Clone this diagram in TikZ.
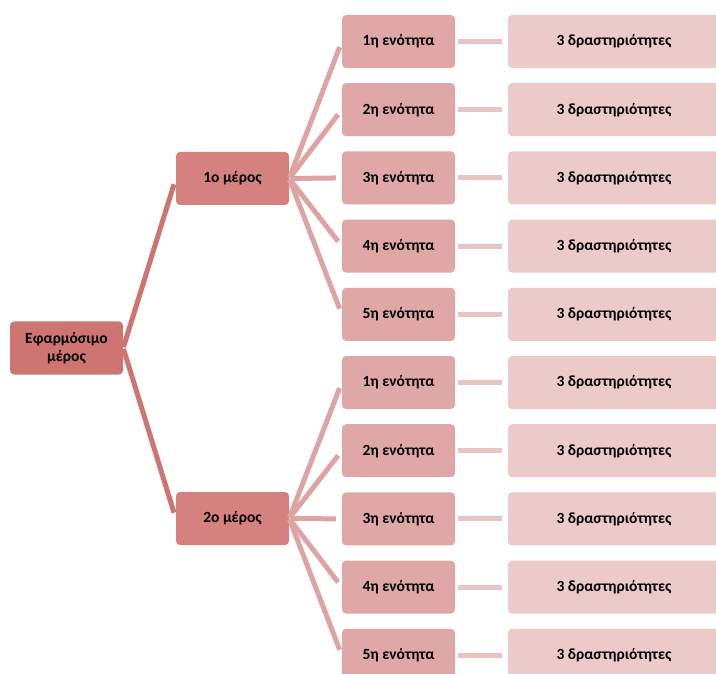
\documentclass[tikz,border=0pt]{standalone}
\usepackage{fontspec}
\setmainfont{Carlito}
\usepackage{xcolor}
\usetikzlibrary{positioning}

\definecolor{rootfill}{RGB}{206,117,113}
\definecolor{partfill}{RGB}{213,129,128}
\definecolor{unitfill}{RGB}{224,167,167}
\definecolor{actfill}{RGB}{237,202,202}
\definecolor{rootline}{RGB}{206,117,113}
\definecolor{partline}{RGB}{222,163,163}
\definecolor{unitline}{RGB}{233,196,196}

\begin{document}
\begin{tikzpicture}[x=1pt,y=-1pt,
    box/.style={rounded corners=4pt, minimum height=53pt, inner sep=2pt,
        align=center, font=\fontsize{15.5}{18}\selectfont\bfseries},
    rootbox/.style={box, fill=rootfill, minimum width=113pt},
    partbox/.style={box, fill=partfill, minimum width=113pt},
    unitbox/.style={box, fill=unitfill, minimum width=113pt},
    actbox/.style={box, fill=actfill, minimum width=212pt},
    link/.style={line width=5pt, shorten >=6pt, shorten <=1pt},
    rootlink/.style={link, draw=rootline},
    partlink/.style={link, draw=partline},
    unitlink/.style={link, draw=unitline, shorten <=3pt}]

\clip (0,0) rectangle (716,674);

% --------------------------------------------------
% Root
% --------------------------------------------------
\node[rootbox] (root) at (66.5,348) {Εφαρμόσιμο\\μέρος};

% --------------------------------------------------
% Parts, units and activities
% --------------------------------------------------
\foreach \p/\py in {1/178.5,2/518.5}{
    \node[partbox] (part\p) at (232.5,\py) {\p ο μέρος};
    \draw[rootlink] (root.east) -- (part\p.west);
    \foreach \u in {1,...,5}{
        \pgfmathsetmacro{\uy}{41.5+((\p-1)*5+\u-1)*68.2}
        \node[unitbox] (unit\p\u) at (398.5,\uy) {\u η ενότητα};
        \node[actbox] (act\p\u) at (614,\uy) {3 δραστηριότητες};
        \draw[partlink] (part\p.east) -- (unit\p\u.west);
        \draw[unitlink] (unit\p\u.east) -- (act\p\u.west);
    }
}

\end{tikzpicture}
\end{document}
